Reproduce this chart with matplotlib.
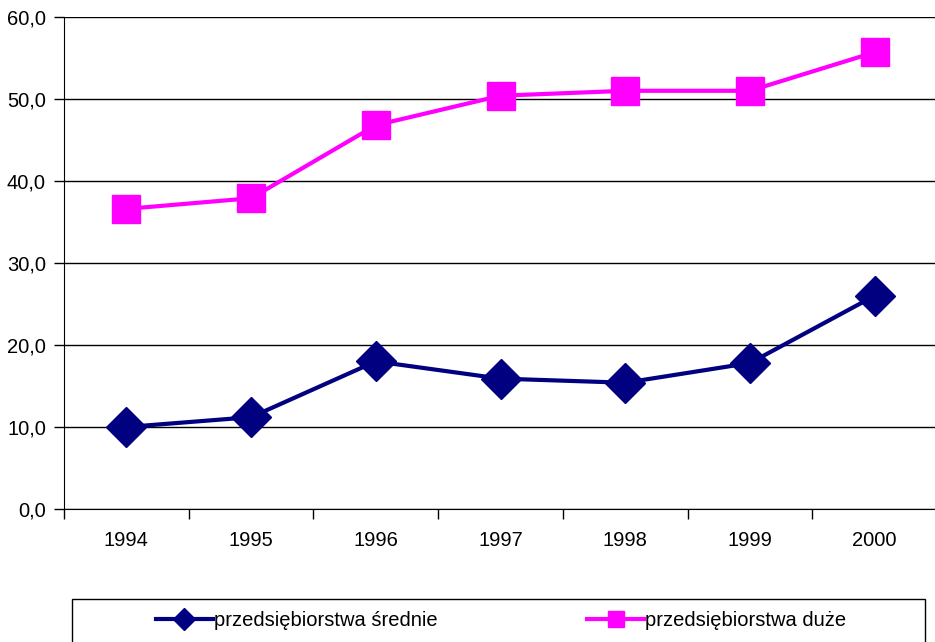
import matplotlib.pyplot as plt
from matplotlib.lines import Line2D
from matplotlib.patches import Rectangle
from matplotlib.ticker import FuncFormatter, FixedLocator

plt.rcParams['font.family'] = ['Liberation Sans', 'DejaVu Sans']

# dane
lata = ['1994', '1995', '1996', '1997', '1998', '1999', '2000']
srednie = [10.0, 11.2, 18.0, 15.9, 15.4, 17.8, 26.0]
duze = [36.6, 37.9, 46.8, 50.4, 51.0, 51.0, 55.7]

granat = '#000080'
roz = '#FF00FF'
fs = 14.5

W, H = 935, 642
fig = plt.figure(figsize=(W / 100, H / 100), dpi=100)
ax = fig.add_axes([64 / W, 1 - 509 / H, 873 / W, 492 / H])

x = list(range(len(lata)))
ax.plot(x, srednie, color=granat, lw=3, marker='D', ms=20, zorder=3, clip_on=False)
ax.plot(x, duze, color=roz, lw=3, marker='s', ms=19.5, zorder=3, clip_on=False)

ax.set_xlim(-0.5, 6.5)
ax.set_ylim(0, 60)
ax.set_yticks(range(0, 61, 10))
ax.yaxis.set_major_formatter(FuncFormatter(lambda v, p: f'{v:.1f}'.replace('.', ',')))
ax.grid(axis='y', color='black', lw=1)
ax.set_axisbelow(True)

ax.set_xticks(x)
ax.set_xticklabels(lata)
ax.xaxis.set_minor_locator(FixedLocator([i - 0.5 for i in range(len(lata) + 1)]))
ax.tick_params(axis='x', which='major', length=0, pad=16, labelsize=fs)
ax.tick_params(axis='x', which='minor', length=7, width=1, direction='out')
ax.tick_params(axis='y', length=7, width=1, direction='out', pad=6, labelsize=fs)

for s in ['top', 'right']:
    ax.spines[s].set_visible(False)
ax.spines['left'].set_color('black')
ax.spines['bottom'].set_color('black')

# legenda z ramką
fig.patches.append(Rectangle((72 / W, -0.05), 853 / W, 0.05 + (H - 599) / H,
                             transform=fig.transFigure, fill=False,
                             edgecolor='black', lw=1))
uchwyty = [
    Line2D([], [], color=granat, lw=3, marker='D', ms=11),
    Line2D([], [], color=roz, lw=3, marker='s', ms=11),
]
fig.legend(uchwyty, ['przedsiębiorstwa średnie', 'przedsiębiorstwa duże'],
           loc='center', bbox_to_anchor=(501 / W, 1 - 621 / H), ncol=2,
           frameon=False, fontsize=fs, handlelength=2.83, handletextpad=0.05,
           columnspacing=7.46, borderpad=0, borderaxespad=0)

fig.savefig('out.png', dpi=100)
